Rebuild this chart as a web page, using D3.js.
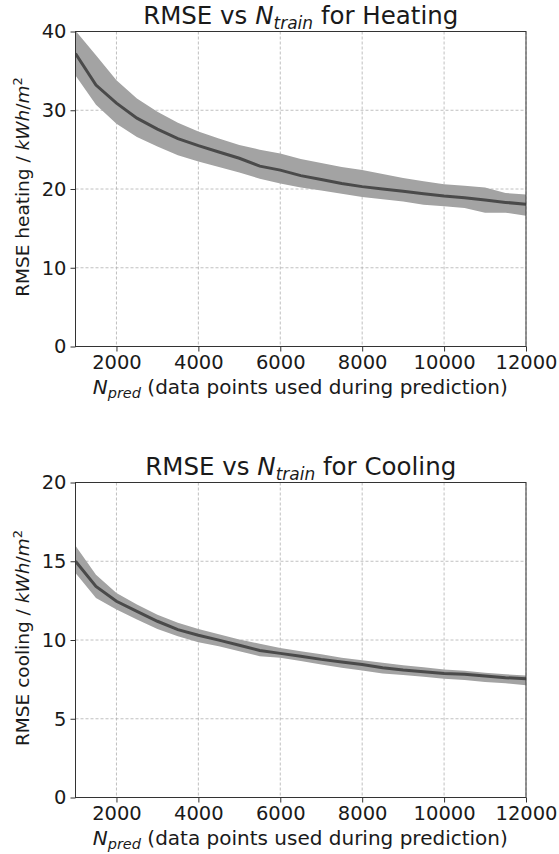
<!DOCTYPE html>
<html><head><meta charset="utf-8">
<script src="https://cdn.jsdelivr.net/npm/d3@7"></script>
<style>body{margin:0;background:#fff}text{font-family:"DejaVu Sans",sans-serif;fill:#1a1a1a}</style>
</head><body><svg id="c" width="559" height="854"></svg>
<script>
const nPred = [1000,1500,2000,2500,3000,3500,4000,4500,5000,5500,6000,6500,7000,7500,8000,8500,9000,9500,10000,10500,11000,11500,12000];
const heatMean  = [37.2,33.2,30.9,29.0,27.6,26.4,25.5,24.7,23.9,22.9,22.4,21.7,21.2,20.7,20.3,20.0,19.7,19.4,19.1,18.9,18.6,18.3,18.05];
const heatUpper = [40.1,37.0,33.8,31.5,29.8,28.4,27.3,26.4,25.6,25.0,24.5,23.8,23.3,22.8,22.4,21.9,21.4,21.0,20.6,20.4,20.2,19.5,19.3];
const heatLower = [34.4,30.7,28.3,26.6,25.4,24.3,23.5,22.8,22.1,21.3,20.7,20.2,19.8,19.4,19.0,18.7,18.4,18.0,17.8,17.6,17.0,17.0,16.6];
const coolMean  = [15.0,13.4,12.46,11.82,11.19,10.66,10.3,9.99,9.67,9.33,9.15,8.97,8.77,8.6,8.45,8.24,8.09,7.99,7.88,7.82,7.71,7.61,7.54];
const coolUpper = [15.98,14.15,12.99,12.25,11.6,11.09,10.7,10.36,10.03,9.76,9.5,9.29,9.1,8.87,8.72,8.55,8.39,8.27,8.13,8.05,7.92,7.82,7.75];
const coolLower = [14.25,12.67,11.93,11.3,10.7,10.24,9.86,9.6,9.29,8.97,8.87,8.66,8.45,8.24,8.07,7.88,7.77,7.67,7.54,7.46,7.33,7.25,7.12];
const xTicks = [2000,4000,6000,8000,10000,12000];
const heatTicks = [0,10,20,30,40];
const coolTicks = [0,5,10,15,20];

const svg = d3.select("#c");

function panel(cfg){
  const L=75.5, R=526, T=cfg.top, B=cfg.bottom;
  const x = d3.scaleLinear().domain([1000,12000]).range([L,R]);
  const y = d3.scaleLinear().domain(cfg.ydom).range([B,T]);
  const g = svg.append("g");
  const clipId = "clip"+cfg.id;
  svg.append("clipPath").attr("id",clipId).append("rect").attr("x",L).attr("y",T).attr("width",R-L).attr("height",B-T);
  g.selectAll(".gx").data(xTicks).join("line").attr("x1",d=>x(d)).attr("x2",d=>x(d)).attr("y1",T).attr("y2",B)
    .attr("stroke","#b0b0b0").attr("stroke-width",0.8).attr("stroke-dasharray","3,2");
  g.selectAll(".gy").data(cfg.ticks).join("line").attr("y1",d=>y(d)).attr("y2",d=>y(d)).attr("x1",L).attr("x2",R)
    .attr("stroke","#b0b0b0").attr("stroke-width",0.8).attr("stroke-dasharray","3,2");
  const pts = nPred.map((v,i)=>({x:v,m:cfg.mean[i],u:cfg.upper[i],l:cfg.lower[i]}));
  const pg = g.append("g").attr("clip-path",`url(#${clipId})`);
  pg.append("path").datum(pts).attr("d",d3.area().x(d=>x(d.x)).y0(d=>y(d.l)).y1(d=>y(d.u)))
    .attr("fill","#a3a3a3");
  pg.append("path").datum(pts).attr("d",d3.line().x(d=>x(d.x)).y(d=>y(d.m)))
    .attr("fill","none").attr("stroke","#4a4a4a").attr("stroke-width",3);
  const ax = g.append("g").attr("transform",`translate(0,${B})`).call(d3.axisBottom(x).tickValues(xTicks).tickSize(5).tickPadding(4).tickFormat(d3.format("d")));
  const ay = g.append("g").attr("transform",`translate(${L},0)`).call(d3.axisLeft(y).tickValues(cfg.ticks).tickSize(5).tickPadding(4));
  [ax,ay].forEach(a=>{a.select(".domain").remove();a.selectAll("text").attr("font-size",19.5).attr("font-family","DejaVu Sans").attr("fill","#1a1a1a");a.selectAll("line").attr("stroke","#333");});
  g.append("rect").attr("x",L).attr("y",T).attr("width",R-L).attr("height",B-T).attr("fill","none").attr("stroke","#333").attr("stroke-width",1);
  const t = g.append("text").attr("x",(L+R)/2).attr("y",T-7.5).attr("text-anchor","middle").attr("font-size",24.5);
  t.append("tspan").text("RMSE vs ");
  t.append("tspan").attr("font-style","italic").text("N");
  t.append("tspan").attr("font-style","italic").attr("font-size",17).attr("dy",5).text("train");
  t.append("tspan").attr("dy",-5).text(" for "+cfg.name);
  const xl = g.append("text").attr("x",(L+R)/2-0.5).attr("y",B+47).attr("text-anchor","middle").attr("font-size",20);
  xl.append("tspan").attr("font-style","italic").text("N");
  xl.append("tspan").attr("font-style","italic").attr("font-size",14.5).attr("dy",4).text("pred");
  xl.append("tspan").attr("dy",-4).text(" (data points used during prediction)");
  const yl = g.append("text").attr("transform",`translate(28.5,${(T+B)/2-2}) rotate(-90)`).attr("text-anchor","middle").attr("font-size",18.5);
  yl.append("tspan").text(cfg.ylab+" / ");
  yl.append("tspan").attr("font-style","italic").text("kWh");
  yl.append("tspan").text("/");
  yl.append("tspan").attr("font-style","italic").text("m");
  yl.append("tspan").attr("font-size",13).attr("dy",-7).text("2");
}
panel({id:1,top:31.5,bottom:346.5,ydom:[0,40],ticks:heatTicks,mean:heatMean,upper:heatUpper,lower:heatLower,name:"Heating",ylab:"RMSE heating"});
panel({id:2,top:482.5,bottom:797.5,ydom:[0,20],ticks:coolTicks,mean:coolMean,upper:coolUpper,lower:coolLower,name:"Cooling",ylab:"RMSE cooling"});
</script></body></html>
